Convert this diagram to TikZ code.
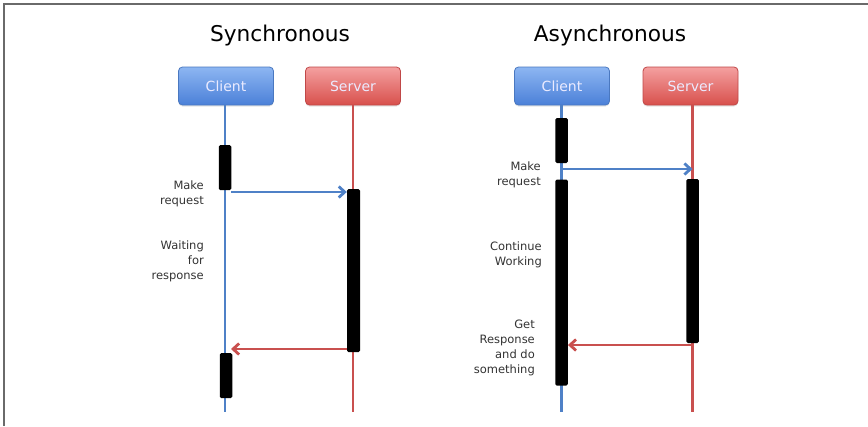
\documentclass[tikz,border=0pt]{standalone}
\usepackage{fontspec}
\setmainfont{DejaVu Sans}
\usetikzlibrary{arrows.meta,shadows}
\definecolor{lifeblue}{HTML}{4F81C7}
\definecolor{lifered}{HTML}{C9504F}
\definecolor{boxbluetop}{HTML}{8DB6F2}
\definecolor{boxbluebot}{HTML}{4B80D8}
\definecolor{boxblueline}{HTML}{4A78C0}
\definecolor{boxredtop}{HTML}{F4A0A0}
\definecolor{boxredbot}{HTML}{D8504C}
\definecolor{boxredline}{HTML}{C04848}
\definecolor{labeltext}{HTML}{333333}
\definecolor{frameline}{HTML}{6A6A6A}
\tikzset{
  actor/.style={rounded corners=4pt, minimum height=38pt, inner sep=0pt,
    font=\fontsize{14}{16}\selectfont, text=white!92!blue, line width=0.8pt,
    drop shadow={shadow xshift=0pt, shadow yshift=-1.5pt, opacity=0.2}},
  clientbox/.style={actor, minimum width=95pt, draw=boxblueline, top color=boxbluetop, bottom color=boxbluebot},
  serverbox/.style={actor, minimum width=95pt, draw=boxredline, top color=boxredtop, bottom color=boxredbot},
  actbox/.style={fill=black, draw=none, rounded corners=1.5pt, inner sep=0pt},
  lifeclient/.style={draw=lifeblue, line width=2.3pt},
  lifeserver/.style={draw=lifered, line width=2.3pt},
  reqarrow/.style={draw=lifeblue, line width=2.8pt, -{Straight Barb[length=6pt,width=11pt,line width=2.8pt]}},
  resarrow/.style={draw=lifered, line width=2.8pt, -{Straight Barb[length=6pt,width=11pt,line width=2.8pt]}},
  title/.style={font=\fontsize{21.7}{24}\selectfont, text=black},
  note/.style={font=\fontsize{11.5}{15}\selectfont, text=labeltext, align=right, anchor=east, inner sep=0pt},
}
\begin{document}
\begin{tikzpicture}[x=1pt,y=-1pt]
\useasboundingbox (0,0) rectangle (868,426);
\fill[white] (0,0) rectangle (868,426);
% frame
\coordinate (fTL) at (4,4);
\coordinate (fTR) at (868,4);
\coordinate (fBL) at (4,426);
\draw[frameline, line width=1.6pt] (fBL) -- (fTL) -- (fTR);

% titles
\node[title] (t1) at (280,36) {Synchronous};
\node[title] (t2) at (610,36) {Asynchronous};

% ---------- synchronous ----------
\node[clientbox] (sc) at (226,86) {Client};
\node[serverbox] (ss) at (353,86) {Server};
\coordinate (scEnd) at (225,412);
\coordinate (ssEnd) at (353,412);
\draw[lifeclient] (sc.south -| scEnd) -- (scEnd);
\draw[lifeserver] (ss.south -| ssEnd) -- (ssEnd);

\node[actbox, minimum width=12.5pt, minimum height=45pt] (sca1) at (225,167.5) {};
\node[actbox, minimum width=12.5pt, minimum height=45pt] (sca2) at (226,375.5) {};
\node[actbox, minimum width=13pt, minimum height=163pt] (ssa) at (353.5,270.5) {};

\coordinate (sreq) at (231,192);
\draw[reqarrow] (sreq) -- (sreq -| ssa.west);
\coordinate (sres) at (231,349);
\draw[resarrow] (sres -| ssa.west) -- (sres);

\node[note] (sl1) at (204,194) {Make\\request};
\node[note] (sl2) at (204,261.5) {Waiting\\for\\response};

% ---------- asynchronous ----------
\node[clientbox] (ac) at (562,86) {Client};
\node[serverbox] (as) at (690.5,86) {Server};
\coordinate (acEnd) at (561.5,412);
\coordinate (asEnd) at (692.5,412);
\draw[lifeclient] (ac.south -| acEnd) -- (acEnd);
\draw[lifeserver] (as.south -| asEnd) -- (asEnd);

\node[actbox, minimum width=12.5pt, minimum height=45pt] (aca1) at (561.5,140.5) {};
\node[actbox, minimum width=12.5pt, minimum height=206pt] (aca2) at (561.5,282.5) {};
\node[actbox, minimum width=12.5pt, minimum height=164pt] (asa) at (692.5,261) {};

\coordinate (areq) at (561.5,169);
\draw[reqarrow] (areq) -- (areq -| asEnd);
\coordinate (ares) at (692.5,345);
\draw[resarrow] (ares) -- (ares -| aca2.east);

\node[note] (al1) at (541,175) {Make\\request};
\node[note] (al2) at (542,254.5) {Continue\\Working};
\node[note] (al3) at (535,348) {Get\\Response\\and do\\something};
\end{tikzpicture}
\end{document}
